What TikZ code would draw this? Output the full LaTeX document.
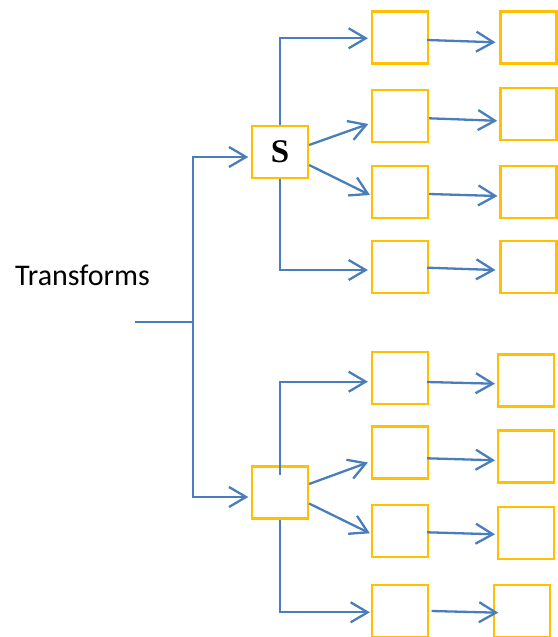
\documentclass[tikz,border=0pt]{standalone}
\usepackage{fontspec}
\setmainfont{Liberation Serif}
\newfontfamily\calib{Carlito}
\usetikzlibrary{arrows.meta}
\definecolor{lblue}{HTML}{4A7EBB}
\definecolor{gold}{HTML}{FFC000}
\begin{document}
\begin{tikzpicture}[x=1pt,y=-1pt,
  box/.style={draw=gold, line width=2.2pt, minimum width=56pt, minimum height=52pt, inner sep=0pt, fill=white},
  link/.style={draw=lblue, line width=2.3pt},
  arr/.style={link, -{Straight Barb[length=17pt,width=20pt]}}]
\useasboundingbox (0,0) rectangle (557,637);

% text
\node[anchor=base west, inner sep=0pt] (T) at (15,285.7) {\calib\fontsize{30}{34}\selectfont Transforms};

% middle boxes
\node[box] (S) at (280,152) {\raisebox{-2.5pt}{\fontsize{33}{33}\selectfont\bfseries S}};
\node[box] (L) at (280,492.5) {};

% column 2
\node[box] (a1) at (400,37.5) {};
\node[box] (a2) at (400,116) {};
\node[box] (a3) at (400,192) {};
\node[box] (a4) at (400,267) {};
\node[box] (a5) at (400,378) {};
\node[box] (a6) at (400,452.5) {};
\node[box] (a7) at (400,531) {};
\node[box] (a8) at (400,611) {};

% column 3
\node[box] (b1) at (528.5,37.5) {};
\node[box] (b2) at (528.5,114) {};
\node[box] (b3) at (528.5,192) {};
\node[box] (b4) at (528.5,267) {};
\node[box] (b5) at (526,380.5) {};
\node[box] (b6) at (526,456.5) {};
\node[box] (b7) at (526,533) {};
\node[box] (b8) at (522,611) {};

% input trunk
\coordinate (in) at (135,322.3);
\coordinate (j) at (193.3,322.3);
\draw[link] (in) -- (j);
\draw[arr] (j) |- ([xshift=-2.6pt,yshift=-5pt]S.west);
\draw[arr] (j) |- ([xshift=-2.6pt,yshift=-4.5pt]L.west);

% from S
\draw[arr] (S.north) |- ([xshift=-3pt,yshift=-0.8pt]a1.west);
\draw[arr] ([yshift=7pt]S.east) -- ([xshift=-2.6pt,yshift=-8pt]a2.west);
\draw[arr] ([yshift=-13pt]S.east) -- ([xshift=-1pt,yshift=-3pt]a3.west);
\draw[arr] (S.south) |- ([xshift=-3pt,yshift=-3pt]a4.west);

% from L
\draw[arr] ([yshift=-9.6pt]L.north) |- ([xshift=-3pt,yshift=-3.7pt]a5.west);
\draw[arr] ([yshift=8.5pt]L.east) -- ([xshift=-3pt,yshift=-10pt]a6.west);
\draw[arr] ([yshift=-11pt]L.east) -- ([xshift=-1pt,yshift=-2.3pt]a7.west);
\draw[arr] (L.south) |- ([xshift=-1pt,yshift=-1.3pt]a8.west);

% column 2 -> column 3
\draw[arr] ([xshift=-2pt,yshift=-2.5pt]a1.east) -- ([xshift=-3.9pt,yshift=-4.8pt]b1.west);
\draw[arr] ([yshift=-2.3pt]a2.east) -- ([xshift=-2.2pt,yshift=-6.8pt]b2.west);
\draw[arr] ([yshift=-2pt]a3.east) -- ([xshift=-1.9pt,yshift=-4pt]b3.west);
\draw[arr] ([xshift=-2pt,yshift=-0.7pt]a4.east) -- ([xshift=-3.9pt,yshift=-3pt]b4.west);
\draw[arr] ([xshift=-2pt,yshift=-4pt]a5.east) -- ([xshift=-1.9pt,yshift=-3.2pt]b5.west);
\draw[arr] ([xshift=-2pt,yshift=-5.8pt]a6.east) -- ([xshift=-1.9pt,yshift=-3.8pt]b6.west);
\draw[arr] ([xshift=-2pt,yshift=-1.3pt]a7.east) -- ([xshift=-1.9pt,yshift=-1.3pt]b7.west);
\draw[arr] ([xshift=2.6pt]a8.east) -- ([xshift=5.4pt,yshift=-1.7pt]b8.west);
\end{tikzpicture}
\end{document}
